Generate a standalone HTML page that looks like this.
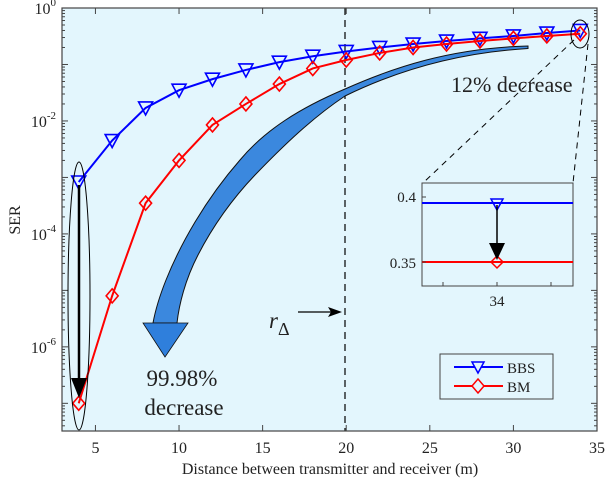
<!DOCTYPE html>
<html><head><meta charset="utf-8"><style>
body{margin:0;background:#fff}
text{font-family:"Liberation Serif",serif;fill:#222}
</style></head><body>
<svg id="chart" width="606" height="484" xmlns="http://www.w3.org/2000/svg">
<rect x="62" y="8" width="535" height="423" fill="#e3f6fd"/>
<g id="ticks"></g>
<line x1="345" y1="8" x2="345" y2="431" stroke="#000" stroke-width="1.2" stroke-dasharray="7,5"/>
<path d="M528,46 C450,48 392,68 345,89 C300,108 265,130 240,160 C205,200 180,245 166,280 C158,300 155,312 153,323 L177,323 C179,305 185,280 198,255 C215,222 235,196 255,175 C283,146 312,118 345,96 C392,73 452,53 528,48.5 Z" fill="#3b88de" stroke="#111" stroke-width="1"/>
<polygon points="143,323 188,323 165,357" fill="#2f7fdc" stroke="#111" stroke-width="0.8"/>
<g id="series"></g>
<ellipse cx="79" cy="296" rx="11" ry="134" fill="none" stroke="#000" stroke-width="1"/>
<line x1="79" y1="185" x2="79" y2="380" stroke="#000" stroke-width="2.5"/>
<polygon points="71,378 87,378 79,398" fill="#000"/>
<ellipse cx="580" cy="34" rx="9" ry="14" fill="none" stroke="#000" stroke-width="1"/>
<line x1="574" y1="40" x2="423" y2="183" stroke="#000" stroke-dasharray="6,5"/>
<line x1="588" y1="44" x2="573" y2="183" stroke="#000" stroke-dasharray="6,5"/>
<text x="451" y="92" font-size="22">12% decrease</text>
<text x="182" y="386" font-size="23" text-anchor="middle">99.98%</text>
<text x="184" y="415" font-size="23" text-anchor="middle">decrease</text>
<text x="269" y="328" font-size="23" font-style="italic">r<tspan font-size="18" font-style="normal" dy="7">Δ</tspan></text>
<line x1="298" y1="312" x2="332" y2="312" stroke="#000" stroke-width="1.2"/>
<polygon points="342,312 328,307 331,312 328,317" fill="#000"/>
<g>
<rect x="422" y="183" width="151" height="103" fill="#e3f6fd" stroke="#444" stroke-width="1"/>
<line x1="422" y1="203" x2="573" y2="203" stroke="#00f" stroke-width="2"/>
<line x1="422" y1="262" x2="573" y2="262" stroke="#f00" stroke-width="2"/>
<polygon points="491,199 503,199 497,210" fill="none" stroke="#00f" stroke-width="1.5"/>
<polygon points="497,256 503,262 497,268 491,262" fill="none" stroke="#f00" stroke-width="1.5"/>
<line x1="497" y1="205" x2="497" y2="245" stroke="#000" stroke-width="1.5"/>
<polygon points="489,243 505,243 497,260" fill="#000"/>
<line x1="422" y1="197" x2="426" y2="197" stroke="#444"/><line x1="422" y1="262" x2="426" y2="262" stroke="#444"/>
<line x1="443" y1="286" x2="443" y2="282" stroke="#444"/><line x1="497" y1="286" x2="497" y2="282" stroke="#444"/><line x1="551" y1="286" x2="551" y2="282" stroke="#444"/>
<text x="416" y="202" font-size="15" text-anchor="end">0.4</text>
<text x="416" y="268" font-size="15" text-anchor="end">0.35</text>
<text x="497" y="306" font-size="15" text-anchor="middle">34</text>
</g>
<g>
<rect x="440" y="354" width="113" height="45" fill="#e3f6fd" stroke="#444"/>
<line x1="454" y1="367" x2="503" y2="367" stroke="#00f" stroke-width="2"/>
<polygon points="472,362 484,362 478,373" fill="#e3f6fd" stroke="#00f" stroke-width="1.5"/>
<text x="507" y="373" font-size="15">BBS</text>
<line x1="454" y1="386" x2="503" y2="386" stroke="#f00" stroke-width="2"/>
<polygon points="478,379 484,386 478,393 472,386" fill="#e3f6fd" stroke="#f00" stroke-width="1.5"/>
<text x="507" y="392" font-size="15">BM</text>
</g>
<rect x="62" y="8" width="535" height="423" fill="none" stroke="#444" stroke-width="1.2"/>
<text x="330" y="474" font-size="16" text-anchor="middle">Distance between transmitter and receiver (m)</text>
<text transform="translate(20,220) rotate(-90)" font-size="16" text-anchor="middle">SER</text>
</svg>
<script>
const distances=[4,6,8,10,12,14,16,18,20,22,24,26,28,30,32,34];
const bbsValues=[8.3e-4,4.5e-3,0.017,0.035,0.055,0.08,0.11,0.14,0.17,0.2,0.23,0.26,0.29,0.32,0.36,0.4];
const bmValues=[1e-7,8e-6,3.5e-4,2e-3,8.5e-3,0.02,0.045,0.085,0.12,0.16,0.2,0.23,0.26,0.29,0.32,0.35];
const xTicks=[5,10,15,20,25,30,35];
const yTickExps=[0,-2,-4,-6];
const NS="http://www.w3.org/2000/svg";
const X0=62,X1=597,Y0=8,Y1=431,XMIN=3,XMAX=35,EMAX=0,EMIN=-7.49;
function sx(v){return X0+(v-XMIN)/(XMAX-XMIN)*(X1-X0);}
function sy(v){return Y0+(EMAX-Math.log10(v))/(EMAX-EMIN)*(Y1-Y0);}
function mk(tag,attrs,parent){const e=document.createElementNS(NS,tag);for(const k in attrs)e.setAttribute(k,attrs[k]);parent.appendChild(e);return e;}
const tg=document.getElementById('ticks');
xTicks.forEach(t=>{const x=sx(t);
 mk('line',{x1:x,x2:x,y1:Y1,y2:Y1-6,stroke:'#444'},tg);
 mk('line',{x1:x,x2:x,y1:Y0,y2:Y0+6,stroke:'#444'},tg);
 const tx=mk('text',{x:x,y:Y1+22,'font-size':16,'text-anchor':'middle'},tg);tx.textContent=t;
 
 });
for(let e=0;e>=-8;e--){for(let m=1;m<10;m++){const v=m*Math.pow(10,e);const y=sy(v);if(y<Y0-0.5||y>Y1)continue;
 const len=(m===1)?6:3;
 mk('line',{x1:X0,x2:X0+len,y1:y,y2:y,stroke:'#444'},tg);
 mk('line',{x1:X1,x2:X1-len,y1:y,y2:y,stroke:'#444'},tg);}}
yTickExps.forEach(e=>{const y=sy(Math.pow(10,e));
 const tx=mk('text',{x:X0-6,y:y+6,'font-size':16,'text-anchor':'end'},tg);
 tx.innerHTML='10<tspan font-size="11" dy="-8">'+e+'</tspan>';
 
 });
const sg=document.getElementById('series');
function drawSeries(vals,color,shape,name){
 const pts=distances.map((d,i)=>sx(d)+','+sy(vals[i])).join(' ');
 const pl=mk('polyline',{points:pts,fill:'none',stroke:color,'stroke-width':2},sg);
 
 
 distances.forEach((d,i)=>{const x=sx(d),y=sy(vals[i]);let p;
  if(shape==='tri')p=mk('polygon',{points:(x-7)+','+(y-6)+' '+(x+7)+','+(y-6)+' '+x+','+(y+7),fill:'none',stroke:color,'stroke-width':1.6},sg);
  else p=mk('polygon',{points:x+','+(y-7)+' '+(x+6)+','+y+' '+x+','+(y+7)+' '+(x-6)+','+y,fill:'none',stroke:color,'stroke-width':1.6},sg);
  
  });}
drawSeries(bbsValues,'#0000ff','tri','bbs');
drawSeries(bmValues,'#ff0000','dia','bm');
</script>
</body></html>
